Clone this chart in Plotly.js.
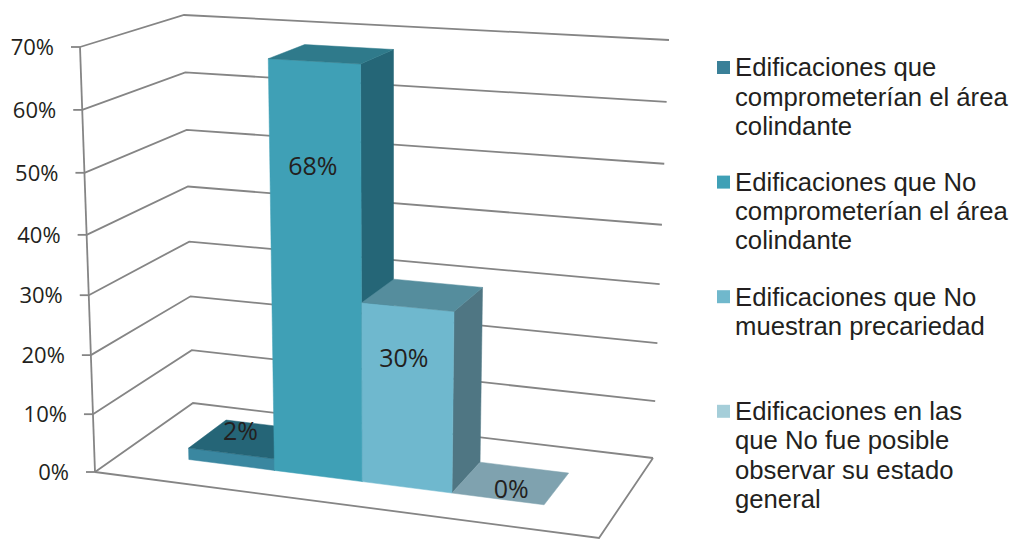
<!DOCTYPE html>
<html>
<head>
<meta charset="utf-8">
<script src="https://cdn.plot.ly/plotly-3.0.1.min.js"></script>
<style>html,body{margin:0;padding:0;background:#fff}#chart{width:1011px;height:539px}</style>
</head>
<body>
<div id="chart"></div>
<script>
// Series shown as one cluster of 3D columns
const seriesNames = [
  "Edificaciones que comprometerían el área colindante",
  "Edificaciones que No comprometerían el área colindante",
  "Edificaciones que No muestran precariedad",
  "Edificaciones en las que No fue posible observar su estado general"
];
const seriesValues = [2, 68, 30, 0];

// Legend text, wrapped line by line
const legendLines = [
  ["Edificaciones que", "comprometerían el área", "colindante"],
  ["Edificaciones que No", "comprometerían el área", "colindante"],
  ["Edificaciones que No", "muestran precariedad"],
  ["Edificaciones en las", "que No fue posible", "observar su estado", "general"]
];

// Value axis
const axisValues = [0, 10, 20, 30, 40, 50, 60, 70];
const axisLabels = ["0%", "10%", "20%", "30%", "40%", "50%", "60%", "70%"];
const axisRise = [0, 0.136, 0.275, 0.416, 0.558, 0.704, 0.852, 1];

// Where each data label sits: value level, fraction across and fraction into the column
const labelLevels = [2, 51.3, 21.6, 0];
const labelAcross = [0.31, 0.47, 0.46, 0.55];
const labelDepths = [0.69, 0, 0, 0.33];

// Face colours per series
const frontColors = ["#3a87a0", "#3fa0b6", "#6fb8ce", "#a5ced9"];
const topColors = ["#256577", "#2f7a8b", "#558d9d", "#7fa2af"];
const sideColors = ["#1f5c6c", "#256677", "#4f7683", "#7fa2af"];
const swatchColors = ["#3a8098", "#3fa0b6", "#70b8cc", "#a5ced9"];

// Box of the 3D plot on the page: [floor corner, corner at the top of the axis]
const frontLeft = [[95, 472], [80, 47]];
const frontRight = [[599, 538], [614, 78]];
const backRight = [[653, 458], [669, 40]];
const backLeft = [[193, 403], [184, 15]];

// Column footprint within the floor (0..1 in each direction)
const clusterStart = 0.139, columnWidth = 0.181, depthFront = 0.28, depthBack = 0.684;

const INK = "#231f20", GRID = "#858585", GRID_WIDTH = 1.8, TEXT_NUDGE = 2.5;

function riseOf(value) {
  for (let i = 1; i < axisValues.length; i++) {
    if (value <= axisValues[i]) {
      const t = (value - axisValues[i - 1]) / (axisValues[i] - axisValues[i - 1]);
      return axisRise[i - 1] + t * (axisRise[i] - axisRise[i - 1]);
    }
  }
  return 1;
}

function cornerAt(c, value) {
  const r = riseOf(value);
  return [c[0][0] + r * (c[1][0] - c[0][0]), c[0][1] + r * (c[1][1] - c[0][1])];
}

// Perspective projection: u across the floor, v into the depth, plus a value height
function project(u, v, value) {
  const p00 = cornerAt(frontLeft, value), p10 = cornerAt(frontRight, value);
  const p11 = cornerAt(backRight, value), p01 = cornerAt(backLeft, value);
  const dx1 = p10[0] - p11[0], dx2 = p01[0] - p11[0], sx = p00[0] - p10[0] + p11[0] - p01[0];
  const dy1 = p10[1] - p11[1], dy2 = p01[1] - p11[1], sy = p00[1] - p10[1] + p11[1] - p01[1];
  const det = dx1 * dy2 - dx2 * dy1;
  const g = (sx * dy2 - dx2 * sy) / det, h = (dx1 * sy - sx * dy1) / det;
  const w = g * u + h * v + 1;
  return [
    ((p10[0] - p00[0] + g * p10[0]) * u + (p01[0] - p00[0] + h * p01[0]) * v + p00[0]) / w,
    ((p10[1] - p00[1] + g * p10[1]) * u + (p01[1] - p00[1] + h * p01[1]) * v + p00[1]) / w
  ];
}

const traces = [];

function addLine(points, color, width) {
  traces.push({
    type: "scatter", mode: "lines", hoverinfo: "skip", showlegend: false,
    x: points.map(p => p[0]), y: points.map(p => p[1]),
    line: { color: color, width: width }
  });
}

function addFace(points, color, name) {
  const ring = points.concat([points[0]]);
  traces.push({
    type: "scatter", mode: "lines", fill: "toself", fillcolor: color, name: name,
    hoverinfo: "skip", showlegend: false,
    x: ring.map(p => p[0]), y: ring.map(p => p[1]),
    line: { color: color, width: 0.5 }
  });
}

function addText(xs, ys, texts, size, family, position) {
  traces.push({
    type: "scatter", mode: "text", hoverinfo: "skip", showlegend: false,
    x: xs, y: ys.map(y => y + TEXT_NUDGE), text: texts, textposition: position,
    textfont: { family: family, size: size, color: INK }
  });
}

// Walls: gridlines run along the side wall, then along the back wall
axisValues.forEach(v => {
  addLine([cornerAt(frontLeft, v), cornerAt(backLeft, v), cornerAt(backRight, v)], GRID, GRID_WIDTH);
});

// Floor edges and the value axis with its outward ticks
addLine([cornerAt(frontLeft, 0), cornerAt(frontRight, 0), cornerAt(backRight, 0)], GRID, GRID_WIDTH);
addLine([cornerAt(frontLeft, 0), cornerAt(frontLeft, 70)], GRID, GRID_WIDTH);
axisValues.forEach(v => {
  const p = cornerAt(frontLeft, v);
  addLine([[p[0] - 9, p[1]], p], GRID, GRID_WIDTH);
});

// Columns, left to right so each one overlaps its neighbour correctly
seriesValues.forEach((val, i) => {
  const u0 = clusterStart + i * columnWidth, u1 = u0 + columnWidth;
  if (val > 0) {
    addFace([project(u1, depthFront, 0), project(u1, depthBack, 0), project(u1, depthBack, val), project(u1, depthFront, val)], sideColors[i], seriesNames[i]);
    addFace([project(u0, depthFront, 0), project(u1, depthFront, 0), project(u1, depthFront, val), project(u0, depthFront, val)], frontColors[i], seriesNames[i]);
  }
  addFace([project(u0, depthFront, val), project(u1, depthFront, val), project(u1, depthBack, val), project(u0, depthBack, val)], topColors[i], seriesNames[i]);
});

// Data labels, taken from the values
const labelPoints = seriesValues.map((val, i) => {
  const uc = clusterStart + (i + labelAcross[i]) * columnWidth;
  const depth = depthFront + labelDepths[i] * (depthBack - depthFront);
  return project(uc, depth, labelLevels[i]);
});
addText(labelPoints.map(p => p[0]), labelPoints.map(p => p[1]), seriesValues.map(v => v + "%"), 25, "Open Sans", "middle center");

// Axis labels, right-aligned a little way left of the axis
const tickAnchors = axisValues.map(v => cornerAt(frontLeft, v));
addText(tickAnchors.map(p => p[0] - 26), tickAnchors.map(p => p[1]), axisLabels, 22, "Open Sans", "middle left");

// Legend: square swatch and a stack of text lines per series
const legendSwatchX = 723.5, legendTextX = 735, legendTop = 67.5, legendStep = 114.6, legendLeading = 29.2;
traces.push({
  type: "scatter", mode: "markers", hoverinfo: "skip", showlegend: false,
  x: seriesNames.map(() => legendSwatchX),
  y: seriesNames.map((_, i) => legendTop + i * legendStep),
  marker: { symbol: "square", size: 13, color: swatchColors, line: { width: 0 } }
});
legendLines.forEach((lines, i) => {
  addText(lines.map(() => legendTextX), lines.map((_, k) => legendTop + i * legendStep + k * legendLeading), lines, 25.7, "Liberation Sans", "middle right");
});

const layout = {
  width: 1011, height: 539,
  margin: { l: 0, r: 0, t: 0, b: 0 },
  paper_bgcolor: "#fff", plot_bgcolor: "#fff",
  showlegend: false,
  xaxis: { range: [0, 1011], visible: false, fixedrange: true },
  yaxis: { range: [539, 0], visible: false, fixedrange: true }
};

Plotly.newPlot("chart", traces, layout, { displayModeBar: false, staticPlot: true });
</script>
</body>
</html>
